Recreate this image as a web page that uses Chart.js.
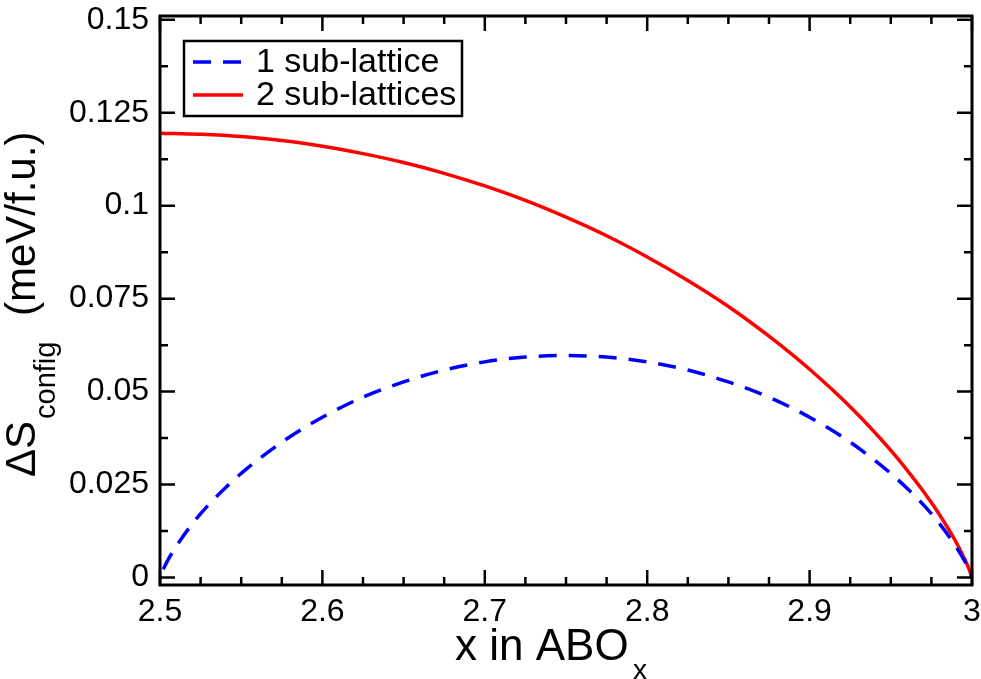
<!DOCTYPE html>
<html>
<head>
<meta charset="utf-8">
<script src="https://cdn.jsdelivr.net/npm/chart.js@4/dist/chart.umd.min.js"></script>
<style>
  html, body { margin: 0; padding: 0; background: #fff; }
  #wrap { width: 981px; height: 679px; }
</style>
</head>
<body>
<div id="wrap"><canvas id="chart" width="981" height="679"></canvas></div>
<script>
// values
const blueLabel = "1 sub-lattice";
const redLabel = "2 sub-lattices";
const blueX = [2.502, 2.505, 2.51, 2.52, 2.53, 2.54, 2.55, 2.575, 2.6, 2.625, 2.65, 2.675, 2.7, 2.725, 2.75, 2.775, 2.8, 2.825, 2.85, 2.875, 2.9, 2.925, 2.95, 2.96, 2.97, 2.98, 2.99, 2.995, 2.998, 3];
const blueY = [0.0022, 0.0048, 0.0084, 0.0145, 0.0196, 0.0240, 0.0280, 0.0364, 0.0431, 0.0485, 0.0526, 0.0558, 0.0580, 0.0593, 0.0597, 0.0593, 0.0580, 0.0558, 0.0526, 0.0485, 0.0431, 0.0364, 0.0280, 0.0240, 0.0196, 0.0145, 0.0084, 0.0048, 0.0022, 0];
const redX = [2.5, 2.525, 2.55, 2.575, 2.6, 2.625, 2.65, 2.675, 2.7, 2.725, 2.75, 2.775, 2.8, 2.825, 2.85, 2.875, 2.9, 2.925, 2.95, 2.96, 2.97, 2.98, 2.99, 2.995, 2.998, 3];
const redY = [0.1195, 0.1192, 0.1186, 0.1175, 0.1160, 0.1140, 0.1116, 0.1087, 0.1053, 0.1014, 0.0969, 0.0919, 0.0862, 0.0799, 0.0729, 0.0649, 0.0560, 0.0459, 0.0342, 0.0289, 0.0232, 0.0169, 0.0097, 0.0054, 0.0025, 0];
const xTicks = [2.5, 2.6, 2.7, 2.8, 2.9, 3];
const yTicks = [0, 0.025, 0.05, 0.075, 0.1, 0.125, 0.15];
const xMinorPerMajor = 4;
const yMinorPerMajor = 2;

const FONT = "'Liberation Sans', Arial, Helvetica, sans-serif";
Chart.defaults.font.family = FONT;
Chart.defaults.color = "#000";

const toPoints = (xs, ys) => xs.map((x, i) => ({ x: x, y: ys[i] }));

// no extra room for overhanging tick labels, the layout padding sets the frame
const noScalePadding = (s) => {
  s.paddingTop = 0; s.paddingBottom = 0; s.paddingLeft = 0; s.paddingRight = 0;
};

// frame, inward ticks, legend box and axis titles (with subscripts)
const framePlugin = {
  id: "frame",
  afterDraw(chart) {
    const ctx = chart.ctx;
    const a = chart.chartArea;
    const xs = chart.scales.x, ys = chart.scales.y;
    ctx.save();
    ctx.strokeStyle = "#000";

    // ticks
    ctx.lineWidth = 2.5;
    const xTick = (v, len) => {
      const p = xs.getPixelForValue(v);
      ctx.beginPath();
      ctx.moveTo(p, a.bottom); ctx.lineTo(p, a.bottom - len);
      ctx.moveTo(p, a.top); ctx.lineTo(p, a.top + len);
      ctx.stroke();
    };
    const yTick = (v, len) => {
      const p = ys.getPixelForValue(v);
      ctx.beginPath();
      ctx.moveTo(a.left, p); ctx.lineTo(a.left + len, p);
      ctx.moveTo(a.right, p); ctx.lineTo(a.right - len, p);
      ctx.stroke();
    };
    xTicks.forEach((v, i) => {
      xTick(v, 15);
      if (i < xTicks.length - 1) {
        const step = (xTicks[i + 1] - v) / xMinorPerMajor;
        for (let k = 1; k < xMinorPerMajor; k++) xTick(v + k * step, 8);
      }
    });
    yTicks.forEach((v, i) => {
      yTick(v, 15);
      if (i < yTicks.length - 1) {
        const step = (yTicks[i + 1] - v) / yMinorPerMajor;
        for (let k = 1; k < yMinorPerMajor; k++) yTick(v + k * step, 8);
      }
    });

    // frame
    ctx.lineWidth = 3;
    ctx.strokeRect(a.left, a.top, a.right - a.left, a.bottom - a.top);

    // legend
    const ds = chart.data.datasets;
    ctx.lineWidth = 2.5;
    ctx.fillStyle = "#fff";
    ctx.fillRect(184, 41, 278, 75);
    ctx.strokeRect(184, 41, 278, 75);
    const rows = [62, 95];
    ctx.font = "34px " + FONT;
    ctx.textBaseline = "middle";
    ctx.textAlign = "left";
    ds.forEach((d, i) => {
      ctx.beginPath();
      ctx.strokeStyle = d.borderColor;
      ctx.lineWidth = d.borderWidth;
      ctx.setLineDash(d.borderDash || []);
      ctx.moveTo(193, rows[i]); ctx.lineTo(243, rows[i]);
      ctx.stroke();
      ctx.setLineDash([]);
      ctx.fillStyle = "#000";
      ctx.fillText(d.label, 256, rows[i] + 1);
    });

    // x title
    ctx.fillStyle = "#000";
    ctx.textBaseline = "alphabetic";
    ctx.font = "44px " + FONT;
    ctx.fillText("x in ABO", 455, 660);
    ctx.font = "28px " + FONT;
    ctx.fillText("x", 633, 679);

    // y title (rotated)
    ctx.save();
    ctx.rotate(-Math.PI / 2);
    ctx.font = "42px " + FONT;
    ctx.fillText("\u0394S", -477, 35);
    ctx.font = "29px " + FONT;
    ctx.fillText("config", -419, 55);
    ctx.font = "42px " + FONT;
    ctx.fillText("(meV/f.u.)", -316, 35);
    ctx.restore();

    ctx.restore();
  }
};

new Chart(document.getElementById("chart"), {
  type: "scatter",
  data: {
    datasets: [
      {
        label: blueLabel,
        data: toPoints(blueX, blueY),
        showLine: true,
        borderColor: "#0000ff",
        borderWidth: 3.5,
        borderDash: [18, 12],
        pointRadius: 0,
        cubicInterpolationMode: "monotone"
      },
      {
        label: redLabel,
        data: toPoints(redX, redY),
        showLine: true,
        borderColor: "#ff0000",
        borderWidth: 3.5,
        pointRadius: 0,
        cubicInterpolationMode: "monotone"
      }
    ]
  },
  options: {
    responsive: false,
    animation: false,
    events: [],
    layout: { padding: { top: 16, right: 9, left: 0, bottom: 0 } },
    plugins: { legend: { display: false }, tooltip: { enabled: false } },
    scales: {
      x: {
        type: "linear",
        min: 2.5,
        max: 3,
        grid: { display: false, drawTicks: false },
        border: { display: false },
        afterBuildTicks: (s) => { s.ticks = xTicks.map(v => ({ value: v })); },
        afterFit: (s) => { s.height = 94; noScalePadding(s); },
        ticks: {
          font: { size: 32 },
          padding: 8,
          maxRotation: 0,
          autoSkip: false,
          callback: (v) => String(v)
        }
      },
      y: {
        type: "linear",
        min: -0.002,
        max: 0.151,
        grid: { display: false, drawTicks: false },
        border: { display: false },
        afterBuildTicks: (s) => { s.ticks = yTicks.map(v => ({ value: v })); },
        afterFit: (s) => { s.width = 160; noScalePadding(s); },
        ticks: {
          font: { size: 32 },
          padding: 11,
          autoSkip: false,
          callback: (v) => String(v)
        }
      }
    }
  },
  plugins: [framePlugin]
});
</script>
</body>
</html>
